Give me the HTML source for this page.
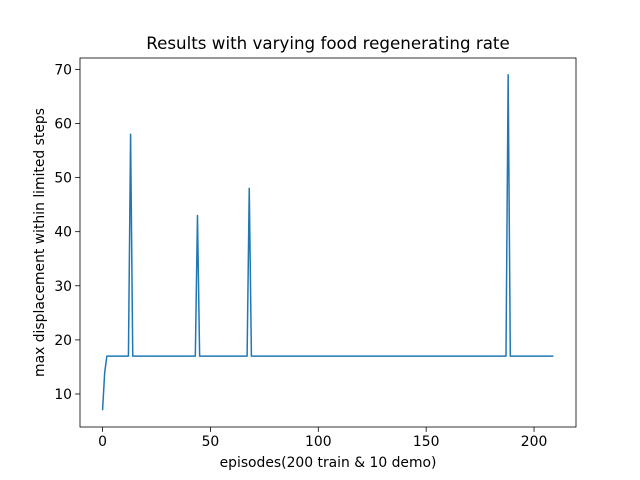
<!DOCTYPE html>
<html><head><meta charset="utf-8"><style>
html,body{margin:0;padding:0;background:#fff;}
svg{display:block;font-family:"DejaVu Sans","Liberation Sans",sans-serif;}
</style></head><body>
<svg id="chart" width="640" height="480" viewBox="0 0 640 480" xmlns="http://www.w3.org/2000/svg">
<rect x="0" y="0" width="640" height="480" fill="#fff"/>
<text x="328" y="49" text-anchor="middle" font-size="16.7" fill="#000">Results with varying food regenerating rate</text>
<g id="plot"></g>
<text x="328" y="467" text-anchor="middle" font-size="13.9" fill="#000">episodes(200 train &amp; 10 demo)</text>
<text transform="translate(44,242.5) rotate(-90)" text-anchor="middle" font-size="13.9" fill="#000">max displacement within limited steps</text>
</svg>
<script>
const xTicks=[0,50,100,150,200];
const yTicks=[10,20,30,40,50,60,70];
const values=[
7,14,17,17,17,17,17,17,17,17,
17,17,17,58,17,17,17,17,17,17,
17,17,17,17,17,17,17,17,17,17,
17,17,17,17,17,17,17,17,17,17,
17,17,17,17,43,17,17,17,17,17,
17,17,17,17,17,17,17,17,17,17,
17,17,17,17,17,17,17,17,48,17,
17,17,17,17,17,17,17,17,17,17,
17,17,17,17,17,17,17,17,17,17,
17,17,17,17,17,17,17,17,17,17,
17,17,17,17,17,17,17,17,17,17,
17,17,17,17,17,17,17,17,17,17,
17,17,17,17,17,17,17,17,17,17,
17,17,17,17,17,17,17,17,17,17,
17,17,17,17,17,17,17,17,17,17,
17,17,17,17,17,17,17,17,17,17,
17,17,17,17,17,17,17,17,17,17,
17,17,17,17,17,17,17,17,17,17,
17,17,17,17,17,17,17,17,69,17,
17,17,17,17,17,17,17,17,17,17,
17,17,17,17,17,17,17,17,17,17
];
const L=80,R=576,T=58,B=427;
const n=values.length;
const xmin=0,xmax=n-1,xm=(xmax-xmin)*0.05;
const ymin=Math.min(...values),ymax=Math.max(...values),ym=(ymax-ymin)*0.05;
const x0=xmin-xm,x1=xmax+xm,y0=ymin-ym,y1=ymax+ym;
const sx=v=>L+(v-x0)/(x1-x0)*(R-L);
const sy=v=>B-(v-y0)/(y1-y0)*(B-T);
const NS="http://www.w3.org/2000/svg";
const g=document.getElementById('plot');
function mk(tag,attrs){const e=document.createElementNS(NS,tag);for(const k in attrs)e.setAttribute(k,attrs[k]);g.appendChild(e);return e;}
let d='';
values.forEach((v,i)=>{d+=(i?'L':'M')+sx(i).toFixed(2)+','+sy(v).toFixed(2);});
const line=mk('path',{d:d,fill:'none',stroke:'#1f77b4','stroke-width':'1.5','stroke-linejoin':'round'});


xTicks.forEach(t=>{
 const x=sx(t);
 const tk=mk('line',{x1:x,x2:x,y1:B,y2:B+4.9,stroke:'#000','stroke-width':'0.8'});
 
 
 const tx=mk('text',{x:x,y:B+19,'text-anchor':'middle','font-size':'13.9',fill:'#000'});
 tx.textContent=t;
 
 
});
yTicks.forEach(t=>{
 const y=sy(t);
 const tk=mk('line',{x1:L-4.9,x2:L,y1:y,y2:y,stroke:'#000','stroke-width':'0.8'});
 
 
 const tx=mk('text',{x:L-8,y:y+5,'text-anchor':'end','font-size':'13.9',fill:'#000'});
 tx.textContent=t;
 
 
});
const frame=mk('rect',{x:L,y:T,width:R-L,height:B-T,fill:'none',stroke:'#000','stroke-width':'0.8'});


</script>
</body></html>
